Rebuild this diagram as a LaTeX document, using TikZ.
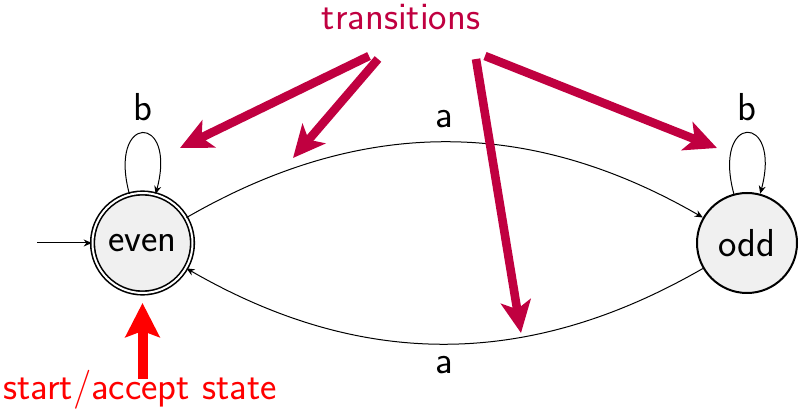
\documentclass[tikz,border=0pt]{standalone}
\usetikzlibrary{arrows.meta}
\definecolor{trans}{RGB}{192,0,64}
\definecolor{statefill}{gray}{0.94}
\begin{document}
\begin{tikzpicture}[x=0.5pt,y=-0.5pt,
  font=\sffamily\fontsize{19.5}{22}\selectfont,
  state/.style={circle,draw,line width=1pt,fill=statefill,minimum size=50pt,inner sep=0pt},
  accepting/.style={double,double distance=1pt,line width=0.8pt},
  edge/.style={-{Stealth[length=4pt,width=3.5pt]},line width=0.5pt},
  hint/.style={line width=4.3pt,draw=trans,-{Stealth[length=16pt,width=15pt,inset=4pt]}},
  startarrow/.style={line width=5pt,draw=red,-{Stealth[length=17pt,width=17pt,inset=3pt]}},
]
\useasboundingbox (0,0) rectangle (799,411);
\node[state,accepting] (even) at (142.5,243) {even};
\node[state] (odd) at (747,243) {odd};
\coordinate (init) at (37,243);
\draw[edge] (init) -- (even);
\draw[edge] (even) to[bend left=30] node[midway,above=3.5pt] (la1) {a} (odd);
\draw[edge] (odd) to[bend left=30] node[midway,below=2.5pt] (la2) {a} (even);
\draw[edge] (even.105) .. controls +(105:42pt) and +(75:42pt) .. node[midway,above=2.5pt] (lb1) {b} (even.75);
\draw[edge] (odd.105) .. controls +(105:42pt) and +(75:42pt) .. node[midway,above=2.5pt] (lb2) {b} (odd.75);

\node[anchor=base,text=trans] (trans) at (401,30) {transitions};
\coordinate (s1) at (369,56);
\coordinate (s2) at (378,59);
\coordinate (s3) at (476,59);
\coordinate (s4) at (485,56);
\coordinate (e1) at (180,148);
\coordinate (e2) at (293,158);
\coordinate (e3) at (521,333);
\coordinate (e4) at (717,148);
\draw[hint] (s1) -- (e1);
\draw[hint] (s2) -- (e2);
\draw[hint] (s3) -- (e3);
\draw[hint] (s4) -- (e4);

\node[anchor=base,text=red] (sa) at (140,400) {start/accept state};
\coordinate (r0) at (142.5,379);
\coordinate (r1) at (142.5,303);
\draw[startarrow] (r0) -- (r1);
\end{tikzpicture}
\end{document}
